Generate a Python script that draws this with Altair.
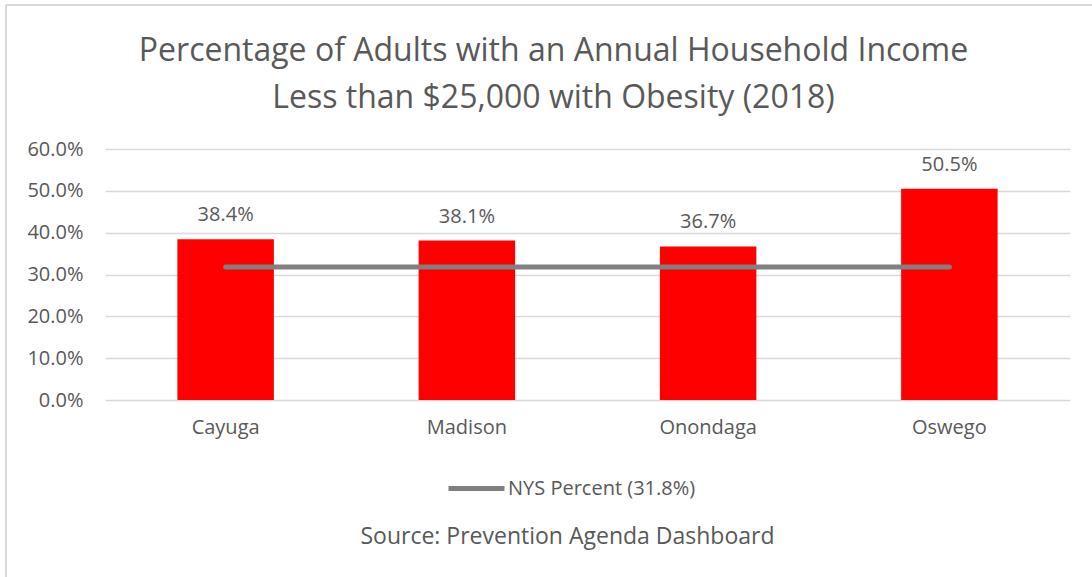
import altair as alt
import pandas as pd

counties = ["Cayuga", "Madison", "Onondaga", "Oswego"]
values = [0.384, 0.381, 0.367, 0.505]
labels = ["38.4%", "38.1%", "36.7%", "50.5%"]
nys_value = 0.318
nys_label = "NYS Percent (31.8%)"
title_lines = ["Percentage of Adults with an Annual Household Income",
               "Less than $25,000 with Obesity (2018)"]
source_text = "Source: Prevention Agenda Dashboard"

df = pd.DataFrame({
    "County": counties,
    "Value": values,
    "Label": labels,
    "NYS": [nys_value] * len(counties),
    "Series": [nys_label] * len(counties),
})

FONT = "Open Sans"
TXT = "#595959"

x_enc = alt.X(
    "County:N",
    sort=counties,
    scale=alt.Scale(paddingInner=0.6, paddingOuter=0.3),
    axis=alt.Axis(
        title=source_text,
        titleFont=FONT, titleFontSize=23, titleFontWeight="normal", titleColor=TXT,
        titleX=462, titleY=143, titleAlign="center", titleBaseline="alphabetic",
        labelAngle=0, labelFont=FONT, labelFontSize=20, labelColor=TXT,
        labelPadding=17, ticks=False, domain=False, grid=False,
    ),
)

y_scale = alt.Scale(domain=[0, 0.6])
y_axis = alt.Axis(
    values=[0, 0.1, 0.2, 0.3, 0.4, 0.5, 0.6], format=".1%",
    labelFont=FONT, labelFontSize=20, labelColor=TXT, labelPadding=22,
    ticks=False, domain=False, grid=True, gridColor="#d9d9d9", gridWidth=1.5,
    title=None,
)

bars = alt.Chart(df).mark_bar(color="#ff0000").encode(
    x=x_enc,
    y=alt.Y("Value:Q", scale=y_scale, axis=y_axis),
)

text = alt.Chart(df).mark_text(
    font=FONT, fontSize=20, color=TXT, dy=-18, baseline="alphabetic"
).encode(
    x=alt.X("County:N", sort=counties),
    y=alt.Y("Value:Q", scale=y_scale),
    text="Label:N",
)

line = alt.Chart(df).mark_line(strokeWidth=5, strokeCap="round").encode(
    x=alt.X("County:N", sort=counties),
    y=alt.Y("NYS:Q", scale=y_scale),
    color=alt.Color(
        "Series:N",
        scale=alt.Scale(range=["#808080"]),
        legend=alt.Legend(
            title=None, orient="none", legendX=341, legendY=309,
            symbolType="stroke", symbolSize=3136, symbolStrokeWidth=5,
            labelFont=FONT, labelFontSize=20, labelColor=TXT, labelOffset=1,
            labelLimit=500,
        ),
    ),
)

border_left = alt.Chart(df).mark_rule(color="#d9d9d9", strokeWidth=2).encode(
    x=alt.value(-99), y=alt.value(-144), y2=alt.value(600)
)
border_top = alt.Chart(df).mark_rule(color="#d9d9d9", strokeWidth=2).encode(
    x=alt.value(-99), x2=alt.value(1000), y=alt.value(-144)
)

chart = alt.layer(bars, text, line, border_left, border_top).properties(
    width=965,
    height=251,
    autosize=alt.AutoSizeParams(type="none"),
    padding={"left": 105, "top": 149, "right": 22, "bottom": 177},
    title=alt.TitleParams(
        text=title_lines, font=FONT, fontSize=32, fontWeight="normal",
        color=TXT, anchor="middle", dx=-34, offset=-111, lineHeight=47,
    ),
).configure(background="white").configure_view(stroke=None)

chart.save("out.html", embed_options={"renderer": "svg", "actions": False})
